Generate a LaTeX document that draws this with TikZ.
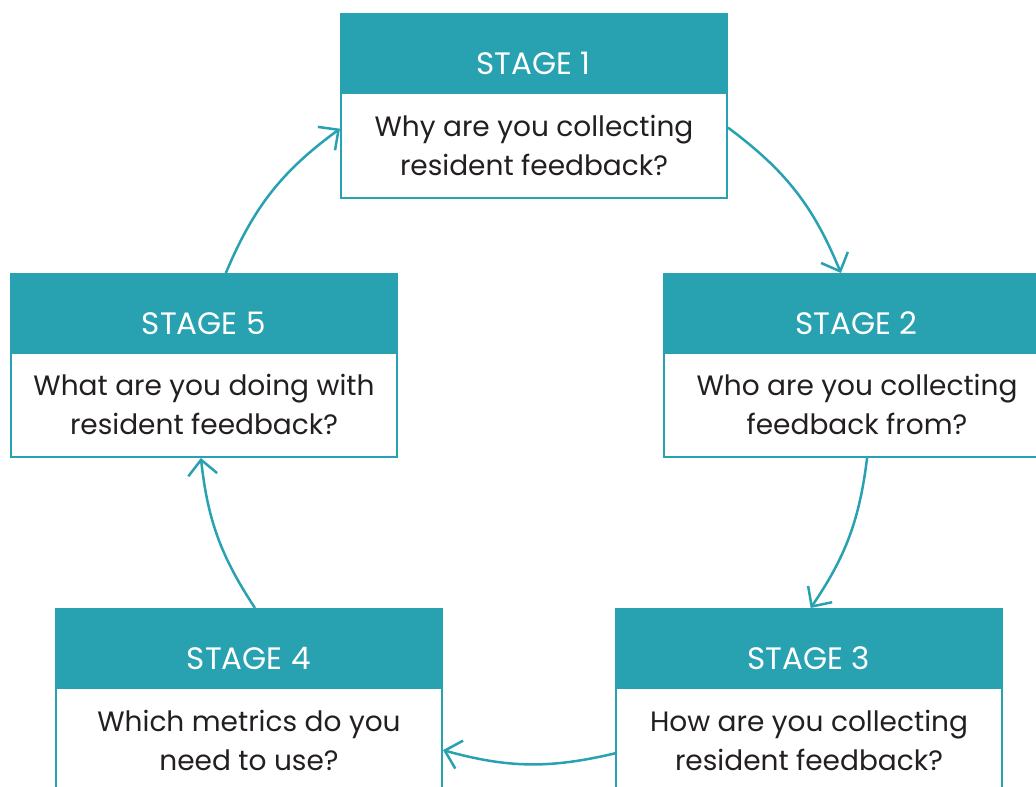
\documentclass[tikz,border=0pt]{standalone}
\usepackage{fontspec}
\setmainfont{Poppins}
\usetikzlibrary{arrows.meta,calc}

\definecolor{teal}{RGB}{40,161,177}
\definecolor{ink}{RGB}{35,31,32}

\tikzset{
  hdr/.style={draw=teal, fill=teal, line width=1.5pt, anchor=north west,
    minimum width=386pt, minimum height=79pt, inner sep=0pt, text=white,
    font=\fontsize{31}{36}\selectfont, text height=42pt, text depth=0pt},
  bodybox/.style={draw=teal, fill=white, line width=2pt, anchor=north west,
    minimum width=386pt, minimum height=105pt, inner sep=0pt, text=ink,
    align=center, font=\fontsize{28}{39}\selectfont},
  flow/.style={draw=teal, line width=2.5pt,
    -{Straight Barb[length=15pt,width=29pt]}},
}

\begin{document}
\begin{tikzpicture}[x=1pt,y=-1pt]
\useasboundingbox (0,0) rectangle (1036,787);
\clip (0,0) rectangle (1036,787);

% Stage boxes: coloured header over a white question panel
\node[bodybox] (b1) at (340,92) {Why are you collecting\\resident feedback?};
\node[hdr] (h1) at (340,13) {STAGE 1};

\node[bodybox] (b2) at (663,351) {Who are you collecting\\feedback from?};
\node[hdr] (h2) at (663,273) {STAGE 2};

\node[bodybox] (b3) at (615,687) {How are you collecting\\resident feedback?};
\node[hdr] (h3) at (615,608) {STAGE 3};

\node[bodybox] (b4) at (55,687) {Which metrics do you\\need to use?};
\node[hdr] (h4) at (55,608) {STAGE 4};

\node[bodybox] (b5) at (10,351) {What are you doing with\\resident feedback?};
\node[hdr] (h5) at (10,273) {STAGE 5};

% Cycle arrows
\draw[flow] ($(b1.north east)!0.333!(b1.south east)$) to[bend left=15.5]
            ($(h2.north west)!0.459!(h2.north east)$);
\draw[flow] ($(b2.south west)!0.526!(b2.south east)$) to[bend left=13.5]
            ($(h3.north west)!0.505!(h3.north east)$);
\draw[flow] ($(b3.north west)!0.62!(b3.south west)$) to[bend left=14.4]
            ($(b4.north east)!0.59!(b4.south east)$);
\draw[flow] ($(h4.north west)!0.516!(h4.north east)$) to[bend left=13.5]
            ($(b5.south west)!0.492!(b5.south east)$);
\draw[flow] ($(h5.north west)!0.557!(h5.north east)$) to[bend left=15.5]
            ($(b1.north west)!0.343!(b1.south west)$);
\end{tikzpicture}
\end{document}
